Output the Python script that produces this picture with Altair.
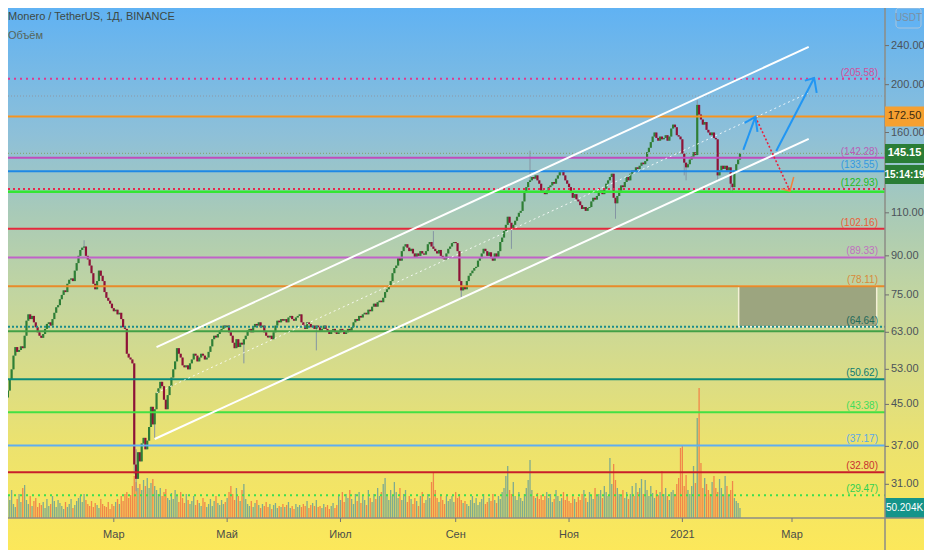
import altair as alt
import pandas as pd

# ---------------- data ----------------
title_text = "Monero / TetherUS, 1Д, BINANCE"
subtitle_text = "Объём"
start_date = "2020-01-02"
first_open = 45.2
closes = [
    45.8, 46.5, 48.0, 50.5, 53.0, 56.5, 58.8, 57.5, 58.0, 59.0,
    58.5, 62.0, 66.5, 68.5, 67.0, 68.0, 66.0, 64.5, 63.0, 62.0,
    61.4, 62.5, 64.0, 65.5, 66.0, 65.0, 67.0, 69.0, 70.8, 71.5,
    73.5, 75.0, 76.6, 76.0, 79.0, 80.5, 81.0, 80.0, 84.0, 87.0,
    90.0, 92.5, 93.5, 94.0, 90.0, 88.5, 86.0, 83.0, 79.0, 77.0,
    80.0, 84.0, 82.0, 80.0, 76.0, 74.0, 73.0, 72.0, 70.5, 69.5,
    70.0, 68.5, 69.0, 67.0, 64.5, 64.0, 57.0, 56.0, 55.5, 54.5,
    34.0, 31.8, 36.0, 34.5, 37.5, 38.5, 36.5, 38.0, 40.5, 44.5,
    41.0, 44.0, 47.5, 48.5, 50.0, 49.0, 46.0, 44.0, 47.0, 49.0,
    51.0, 53.0, 55.0, 58.5, 57.0, 56.0, 54.0, 53.5, 54.0, 53.0,
    54.5, 55.5, 57.0, 56.5, 55.0, 56.0, 57.0, 56.5, 55.5, 56.0,
    57.5, 59.0, 61.0, 62.0, 61.5, 62.5, 63.5, 64.0, 65.0, 64.5,
    65.0, 63.0, 62.0, 60.0, 58.5, 61.0, 58.8, 60.0, 59.5, 61.0,
    62.0, 63.5, 64.0, 63.0, 64.5, 65.5, 65.0, 66.0, 64.5, 65.0,
    63.0, 62.0, 61.5, 62.0, 61.0, 63.0, 65.0, 66.5, 66.0, 67.0,
    66.5, 67.0, 66.0, 67.5, 68.0, 67.0, 66.5, 67.5, 68.0,
    68.5, 66.0, 65.0, 64.0, 66.0, 65.5, 64.5, 65.0, 64.0, 65.0,
    64.5, 63.5, 64.0, 65.0, 64.0, 63.5, 62.5, 63.5, 64.0, 63.0,
    62.5, 63.0, 64.0, 63.5, 62.5, 63.0, 64.0, 63.5, 64.5, 66.0,
    67.0, 66.5, 68.0, 67.5, 68.5, 69.0, 68.5, 70.0, 69.5, 71.0,
    72.0, 71.0, 72.5, 73.0, 72.5, 74.0, 76.0, 77.0, 78.5, 80.0,
    83.0, 85.0, 86.0, 89.0, 88.0, 92.0, 94.0, 95.0, 93.5, 92.0,
    93.0, 91.0, 89.5, 91.0, 90.0, 92.0, 91.0, 90.5, 92.0, 95.0,
    96.0, 94.0, 93.0, 92.0, 91.0, 92.5, 90.0, 89.0, 88.5, 91.0,
    93.0, 94.0, 95.5, 96.0, 95.5, 92.0, 80.0, 76.6, 78.0, 77.0,
    80.0, 82.0, 83.0, 84.0, 85.0, 85.5, 88.0, 89.0, 91.0, 93.0,
    92.0, 90.0, 91.5, 89.0, 88.0, 91.0, 89.5, 92.0, 96.0, 98.0,
    101.0, 104.0, 108.0, 105.0, 102.0, 104.0, 106.0, 108.0, 110.0, 111.0,
    116.0, 121.0, 124.0, 127.0, 128.0, 130.0, 129.0, 131.0, 128.0, 126.0,
    122.0, 121.0, 120.0, 122.0, 124.0, 125.0, 127.0, 126.0, 129.0, 131.0,
    133.0, 134.0, 131.0, 128.0, 126.0, 124.0, 121.0, 118.0, 120.0, 117.0,
    116.0, 114.0, 112.0, 113.0, 111.0, 112.5, 113.0, 116.0, 118.0,
    117.0, 119.0, 121.0, 122.0, 120.0, 123.0, 126.0, 128.0, 130.0, 132.0,
    118.0, 115.0, 119.0, 122.0, 125.0, 124.0, 127.0, 130.0, 128.0, 132.0,
    134.0, 133.0, 136.0, 135.0, 137.0, 139.0, 138.0, 140.0, 146.0, 149.0,
    153.0, 157.0, 160.0, 156.0, 154.0, 157.0, 155.0, 156.0, 158.0, 154.0,
    157.0, 163.0, 166.0, 164.0, 158.0, 157.0, 155.0, 145.0, 139.0, 136.0,
    138.0, 141.0, 143.0, 146.0, 144.0, 182.0, 174.0, 170.0, 166.0, 168.0,
    162.0, 160.0, 158.0, 160.0, 156.0, 155.0, 131.0, 134.0, 137.0, 135.0,
    137.0, 134.0, 136.0, 126.0, 124.0, 134.0, 138.0, 141.0, 145.15,
]
volumes_k = [
    60, 75, 110, 90, 140, 70, 55, 95, 120, 80,
    150, 165, 90, 70, 110, 60, 85, 100, 55, 75,
    65, 80, 50, 95, 60, 70, 110, 85, 55, 90,
    75, 60, 45, 80, 55, 70, 95, 50, 65, 85,
    100, 110, 80, 120, 90, 70, 60, 85, 55, 75,
    65, 50, 95, 70, 60, 55, 80, 45, 70, 60,
    80, 95, 70, 110, 85, 120, 130, 100, 115, 160,
    210, 180, 150, 170, 140, 190, 160, 200, 150, 175,
    195, 160, 140, 120, 150, 110, 130, 145, 100, 90,
    125, 95, 140, 110, 80, 130, 100, 75, 120, 90,
    70, 85, 110, 65, 90, 75, 60, 100, 80, 55,
    70, 95, 60, 85, 110, 75, 65, 90, 70, 80,
    100, 130, 160, 120, 90, 150, 110, 85, 140, 170,
    95, 70, 60, 85, 55, 75, 90, 65, 50, 70,
    60, 80, 55, 70, 45, 65, 75, 50, 60, 55,
    70, 55, 65, 80, 50, 60, 45, 70, 55, 65,
    55, 70, 60, 85, 50, 65, 75, 60, 90, 55,
    60, 50, 70, 55, 65, 45, 60, 75, 50, 65,
    110, 90, 130, 80, 120, 100, 140, 95, 70, 120,
    85, 130, 75, 110, 90, 65, 140, 100, 80, 120,
    95, 150, 110, 130, 170, 200, 120, 90, 140, 110,
    180, 130, 100, 150, 90, 120, 140, 80, 110, 95,
    70, 100, 85, 60, 110, 130, 75, 90, 120, 100,
    180, 225, 140, 100, 80, 120, 90, 70, 110, 85,
    95, 110, 80, 130, 100, 120, 90, 75, 85, 70,
    60, 90, 110, 75, 100, 65, 80, 95, 120, 70,
    80, 100, 85, 120, 90, 75, 110, 95, 130, 150,
    210, 260, 140, 120, 180, 110, 90, 130, 100, 85,
    120, 150, 190, 290, 140, 110, 100, 125, 95, 115,
    90, 110, 130, 100, 120, 80, 95, 140, 110, 85,
    100, 130, 90, 120, 85, 75, 110, 95, 80, 105,
    90, 120, 140, 100, 80, 130, 110, 95, 150, 115,
    120, 140, 100, 160, 130, 110, 300, 170, 270, 190,
    150, 120, 110, 140, 100, 130, 95, 120, 160, 110,
    175, 130, 150, 195, 120, 190, 140, 110, 160, 125,
    100, 140, 115, 130, 235, 120, 150, 110, 90, 130,
    140, 120, 170, 200, 350, 365, 160, 215, 140, 120,
    160, 260, 175, 500, 650, 275, 150, 200, 170, 140,
    120, 180, 210, 150, 130, 195, 150, 110, 210, 160,
    110, 140, 185, 100, 85, 75, 50.204,
]
if len(closes) != len(volumes_k):
    raise SystemExit(f"length mismatch {len(closes)} vs {len(volumes_k)}")

# notable wicks
wick_high_dates = ["2020-02-14", "2020-03-13", "2020-08-20", "2020-10-11", "2021-01-09"]
wick_high_values = [96.8, 36.5, 101.0, 147.0, 186.0]
wick_low_dates = ["2020-03-12", "2020-03-13", "2020-03-23", "2020-05-10", "2020-06-18",
                  "2020-09-04", "2020-10-01", "2020-11-26", "2021-01-02", "2021-01-03",
                  "2021-01-20", "2021-01-27", "2021-01-28"]
wick_low_values = [32.5, 30.0, 38.5, 54.5, 57.9, 73.5, 93.0, 107.0, 131.0, 128.0,
                   127.0, 122.0, 121.0]

# horizontal levels
level_prices = [205.58, 189.7, 172.50, 145.15, 142.28, 133.55, 122.93, 121.3, 102.16,
                89.33, 78.11, 64.64, 63.3, 50.62, 43.38, 37.17, 32.80, 29.47]
label_prices = [205.58, 142.28, 133.55, 122.93, 102.16, 89.33, 78.11, 64.64, 50.62,
                43.38, 37.17, 32.80, 29.47]

# zone box
zone_start, zone_end = "2021-01-31T07:00:00", "2021-04-15T14:00:00"
zone_low, zone_high = 64.64, 78.11

# parallel channel
channel_id = ["upper", "upper", "lower", "lower"]
channel_date = ["2020-03-24T00:00:00", "2021-03-10T00:00:00",
                "2020-03-23T00:00:00", "2021-03-10T00:00:00"]
channel_price = [58.8, 238.5, 38.3, 155.3]
mid_date = ["2020-03-24T00:00:00", "2021-03-10T00:00:00"]
mid_price = [47.5, 192.5]

# projection arrows
blue_id = ["s1", "s1", "h1", "h1", "h1", "s2", "s2", "h2", "h2", "h2"]
blue_order = [0, 1, 0, 1, 2, 0, 1, 0, 1, 2]
blue_date = ["2021-02-02T19:00:00", "2021-02-09T07:00:00",
             "2021-02-03T12:00:00", "2021-02-09T07:00:00", "2021-02-10T10:00:00",
             "2021-02-20T12:00:00", "2021-03-12T22:00:00",
             "2021-03-07T22:00:00", "2021-03-12T22:00:00", "2021-03-14T07:00:00"]
blue_price = [147.5, 172.1, 167.3, 172.1, 160.4, 146.8, 206.4, 203.8, 206.4, 192.5]
red_date = ["2021-02-09T07:00:00", "2021-02-27T22:00:00"]
red_price = [172.1, 121.8]
head_date = ["2021-02-23T05:00:00", "2021-02-27T22:00:00", "2021-03-01T22:00:00"]
head_price = [123.0, 121.8, 130.0]
head_order = [0, 1, 2]

price_ticks = [240, 200, 160, 110, 90, 75, 63, 53, 45, 37, 31]
month_tick_dates = ["2020-03-01T00:00:00", "2020-05-01T00:00:00", "2020-07-01T00:00:00",
                    "2020-09-01T00:00:00", "2020-11-01T00:00:00", "2021-01-01T00:00:00",
                    "2021-03-01T00:00:00"]
month_tick_labels = ["Мар", "Май", "Июл", "Сен", "Ноя", "2021", "Мар"]
last_price_text = "145.15"
countdown_text = "15:14:19"
level_box_text = "172.50"

# ---------------- styles ----------------
FONT = "Liberation Sans, Arial, sans-serif"
W, H = 877, 510          # plot area
RP, BP = 39, 32          # right / bottom guide strips
AXIS = "#8c8c86"
level_style = {
    205.58: ("#e0398f", 2, [2, 4]),
    189.7: ("#8c98a4", 1, [1, 2]),
    172.50: ("#f7931e", 2, None),
    145.15: ("#86a67e", 1.2, [1, 2]),
    142.28: ("#c04cbc", 2, None),
    133.55: ("#1e88e5", 2, None),
    122.93: ("#e8274f", 2, [2, 3]),
    121.3: ("#33e633", 2.5, None),
    102.16: ("#e6283c", 2, None),
    89.33: ("#c062c8", 2, None),
    78.11: ("#e88a2a", 2, None),
    64.64: ("#1a8c8c", 2, [2, 2]),
    63.3: ("#43a047", 2, None),
    50.62: ("#0a8a7a", 2, None),
    43.38: ("#43e043", 2, None),
    37.17: ("#5eaef0", 2, None),
    32.80: ("#c81e2a", 2, None),
    29.47: ("#3be04e", 2, [2, 4]),
}
label_color = {
    205.58: "#d24f9c", 142.28: "#b860b8", 133.55: "#3399e0", 122.93: "#22bb22",
    102.16: "#e8603a", 89.33: "#c070c0", 78.11: "#d88a3a", 64.64: "#1f6a5a",
    50.62: "#0d7a70", 43.38: "#3fdc5a", 37.17: "#5aa8e8", 32.80: "#c83030",
    29.47: "#30d050",
}
UP, DOWN = "#2f7f35", "#8e1237"
VUP, VDOWN = "#7fab8e", "#f0874a"

# ---------------- tables ----------------
dates = pd.date_range(start_date, periods=len(closes), freq="D")
day_keys = list(dates.strftime("%Y-%m-%d"))
opens = [first_open] + closes[:-1]
hi_over = dict(zip(wick_high_dates, wick_high_values))
lo_over = dict(zip(wick_low_dates, wick_low_values))
rows = []
for k, o, c, v in zip(day_keys, opens, closes, volumes_k):
    top, bot = max(o, c), min(o, c)
    up = c >= o
    rows.append({
        "date": k + "T00:00:00",
        "body_lo": bot, "body_hi": top,
        "high": max(top, hi_over.get(k, top)),
        "low": min(bot, lo_over.get(k, bot)),
        "ccolor": UP if up else DOWN,
        "vol": v, "vcolor": VUP if up else VDOWN,
    })
cdf = pd.DataFrame(rows)
one = pd.DataFrame({"a": [0]})

xscale = alt.Scale(domain=[alt.DateTime(year=2020, month=1, date=6, hours=17, minutes=54),
                           alt.DateTime(year=2021, month=4, date=17, hours=8, minutes=38)])
yscale = alt.Scale(type="log", domain=[26.49, 286.0], nice=False)
vscale = alt.Scale(domain=[0, 2550], nice=False)

X = lambda f: alt.X(f, scale=xscale, axis=None)
Y = lambda f: alt.Y(f, scale=yscale, axis=None)

# ---------------- background ----------------
grad = alt.LinearGradient(
    gradient="linear", x1=0, x2=0, y1=0, y2=1,
    stops=[alt.GradientStop(offset=0.0, color="#60b2f3"),
           alt.GradientStop(offset=0.235, color="#8ec0d8"),
           alt.GradientStop(offset=0.376, color="#a8cab8"),
           alt.GradientStop(offset=0.53, color="#c2d5a0"),
           alt.GradientStop(offset=0.668, color="#d8dc88"),
           alt.GradientStop(offset=0.806, color="#ece26e"),
           alt.GradientStop(offset=1.0, color="#fce85a")])
bg = alt.Chart(one).mark_rect(fill=grad).encode(
    x=alt.value(0), x2=alt.value(W + RP), y=alt.value(0), y2=alt.value(H + BP))

# ---------------- volume ----------------
vbars = alt.Chart(cdf).mark_bar(size=1.3, clip=True).encode(
    x=X("date:T"), y=alt.Y("vol:Q", scale=vscale, axis=None),
    color=alt.Color("vcolor:N", scale=None))
vdf = pd.DataFrame({"vol": [volumes_k[-1]], "t": [f"{volumes_k[-1]:.3f}K"]})
vbox = alt.Chart(vdf).mark_point(
    shape="M-1,-0.5128L1,-0.5128L1,0.5128L-1,0.5128Z", size=RP * RP, filled=True,
    opacity=1, color="#14948a", strokeWidth=0).encode(
    x=alt.value(W + RP / 2), y=alt.Y("vol:Q", scale=vscale, axis=None))
vtext = alt.Chart(vdf).mark_text(font=FONT, fontSize=10, color="white", baseline="middle").encode(
    x=alt.value(W + RP / 2), y=alt.Y("vol:Q", scale=vscale, axis=None), text="t:N")
vol_group = alt.layer(vbars, vbox, vtext)

# ---------------- price ----------------
wicks = alt.Chart(cdf).mark_rule(color="#8494a3", strokeWidth=1, clip=True).encode(
    x=X("date:T"), y=Y("low:Q"), y2="high:Q")
bodies = alt.Chart(cdf).mark_rule(strokeWidth=2.2, clip=True).encode(
    x=X("date:T"), y=Y("body_lo:Q"), y2="body_hi:Q",
    color=alt.Color("ccolor:N", scale=None))

zdf = pd.DataFrame({"x0": [zone_start], "x1": [zone_end], "p0": [zone_low], "p1": [zone_high]})
zone = alt.Chart(zdf).mark_rect(fill="#9ca57f", stroke="#f3f0d6", strokeWidth=1.5).encode(
    x=X("x0:T"), x2="x1:T", y=Y("p0:Q"), y2="p1:Q")

level_layers = []
for p in level_prices:
    col, sw, dash = level_style[p]
    kw = dict(color=col, strokeWidth=sw)
    if dash:
        kw["strokeDash"] = dash
    level_layers.append(
        alt.Chart(pd.DataFrame({"p": [p]})).mark_rule(**kw).encode(
            y=Y("p:Q"), x=alt.value(0), x2=alt.value(W)))

ldf = pd.DataFrame({"p": label_prices,
                    "t": [f"({p:.2f})" for p in label_prices],
                    "c": [label_color[p] for p in label_prices]})
labels = alt.Chart(ldf).mark_text(align="right", baseline="bottom", dy=-1, font=FONT,
                                  fontSize=10).encode(
    x=alt.value(W - 7), y=Y("p:Q"), text="t:N", color=alt.Color("c:N", scale=None))

chdf = pd.DataFrame({"id": channel_id, "d": channel_date, "p": channel_price})
channel = alt.Chart(chdf).mark_line(color="white", strokeWidth=2).encode(
    x=X("d:T"), y=Y("p:Q"), detail="id:N")
middf = pd.DataFrame({"d": mid_date, "p": mid_price})
midline = alt.Chart(middf).mark_line(color="white", strokeWidth=1, strokeDash=[2, 3],
                                     opacity=0.85).encode(x=X("d:T"), y=Y("p:Q"))

bdf = pd.DataFrame({"id": blue_id, "o": blue_order, "d": blue_date, "p": blue_price})
blue = alt.Chart(bdf).mark_line(color="#2196f3", strokeWidth=2).encode(
    x=X("d:T"), y=Y("p:Q"), detail="id:N", order="o:Q")
rdf = pd.DataFrame({"d": red_date, "p": red_price})
red = alt.Chart(rdf).mark_line(color="#e8233f", strokeWidth=1.6, strokeDash=[2, 2]).encode(
    x=X("d:T"), y=Y("p:Q"))
hdf = pd.DataFrame({"d": head_date, "p": head_price, "o": head_order})
head = alt.Chart(hdf).mark_line(color="#f2803c", strokeWidth=1.5).encode(
    x=X("d:T"), y=Y("p:Q"), order="o:Q")

# ---------------- guides (drawn through the scales) ----------------
tdf = pd.DataFrame({"p": price_ticks, "t": [f"{p:.2f}" for p in price_ticks]})
ytick = alt.Chart(tdf).mark_rule(color="#6f6f6f", strokeWidth=1).encode(
    x=alt.value(W), x2=alt.value(W + 4), y=Y("p:Q"))
ylab = alt.Chart(tdf).mark_text(align="left", baseline="middle", font=FONT, fontSize=11,
                                color="#4c535a").encode(
    x=alt.value(W + 6), y=Y("p:Q"), text="t:N")
mdf = pd.DataFrame({"d": month_tick_dates, "t": month_tick_labels})
xtick = alt.Chart(mdf).mark_rule(color="#777777", strokeWidth=1).encode(
    x=X("d:T"), y=alt.value(H), y2=alt.value(H + 4))
xlab = alt.Chart(mdf).mark_text(align="center", baseline="middle", font=FONT, fontSize=11,
                                color="#4a4d48").encode(
    x=X("d:T"), y=alt.value(H + 17), text="t:N")
xline = alt.Chart(one).mark_rule(color=AXIS, strokeWidth=1.5).encode(
    x=alt.value(0), x2=alt.value(W + RP), y=alt.value(H))
yline = alt.Chart(one).mark_rule(color=AXIS, strokeWidth=1.5).encode(
    x=alt.value(W), y=alt.value(0), y2=alt.value(H + BP))

# axis price boxes
def box(price, w, h, fill):
    r = h / w
    return alt.Chart(pd.DataFrame({"p": [price]})).mark_point(
        shape=f"M-1,-{r:.4f}L1,-{r:.4f}L1,{r:.4f}L-1,{r:.4f}Z",
        size=w * w, filled=True, opacity=1, color=fill, strokeWidth=0).encode(
        x=alt.value(W + w / 2), y=Y("p:Q"))

def box_text(price, w, txt, col, bold):
    return alt.Chart(pd.DataFrame({"p": [price], "t": [txt]})).mark_text(
        font=FONT, fontSize=11, color=col, baseline="middle",
        fontWeight="bold" if bold else "normal").encode(
        x=alt.value(W + w / 2), y=Y("p:Q"), text="t:N")

box1 = box(172.50, RP, 20, "#f6a030")
box1t = box_text(172.50, RP, level_box_text, "#3a2a12", False)
box2 = box(145.15, RP, 19, "#2a7d36")
box2t = box_text(145.15, RP, last_price_text, "white", True)
cd_box = alt.Chart(one).mark_rect(fill="#2a7d36").encode(
    x=alt.value(W), x2=alt.value(W + RP), y=alt.value(157), y2=alt.value(176))
cd_text = alt.Chart(one).mark_text(font=FONT, fontSize=10, color="white", fontWeight="bold",
                                   baseline="middle").encode(
    x=alt.value(W + RP / 2), y=alt.value(166.5), text=alt.value(countdown_text))
usdt_box = alt.Chart(one).mark_rect(fill="#62b3f3", stroke="#a9c4dc", strokeWidth=1,
                                    cornerRadius=3).encode(
    x=alt.value(W + 11), x2=alt.value(W + 36), y=alt.value(0), y2=alt.value(20))
usdt_text = alt.Chart(one).mark_text(font=FONT, fontSize=10, color="#7a90a4",
                                     baseline="middle").encode(
    x=alt.value(W + 23.5), y=alt.value(10), text=alt.value("USDT"))

title = alt.Chart(one).mark_text(align="left", baseline="middle", font=FONT, fontSize=11,
                                 color="#3e4944").encode(
    x=alt.value(0), y=alt.value(9), text=alt.value(title_text))
subtitle = alt.Chart(one).mark_text(align="left", baseline="middle", font=FONT, fontSize=11,
                                    color="#56665c").encode(
    x=alt.value(0), y=alt.value(28), text=alt.value(subtitle_text))

price_group = alt.layer(
    wicks, bodies, zone, *level_layers, channel, midline, red, head, blue, labels,
    xline, yline, ytick, xtick, ylab, xlab,
    box1, box1t, box2, box2t, cd_box, cd_text, usdt_box, usdt_text,
    title, subtitle)

chart = alt.layer(bg, vol_group, price_group).resolve_scale(y="independent").properties(
    width=W, height=H,
    padding={"left": 0, "top": 0, "right": RP, "bottom": BP},
    autosize=alt.AutoSizeParams(type="none"),
    background="#fce85a",
).configure_view(stroke=None)

chart.save("out.html", embed_options={"renderer": "svg", "actions": False})
